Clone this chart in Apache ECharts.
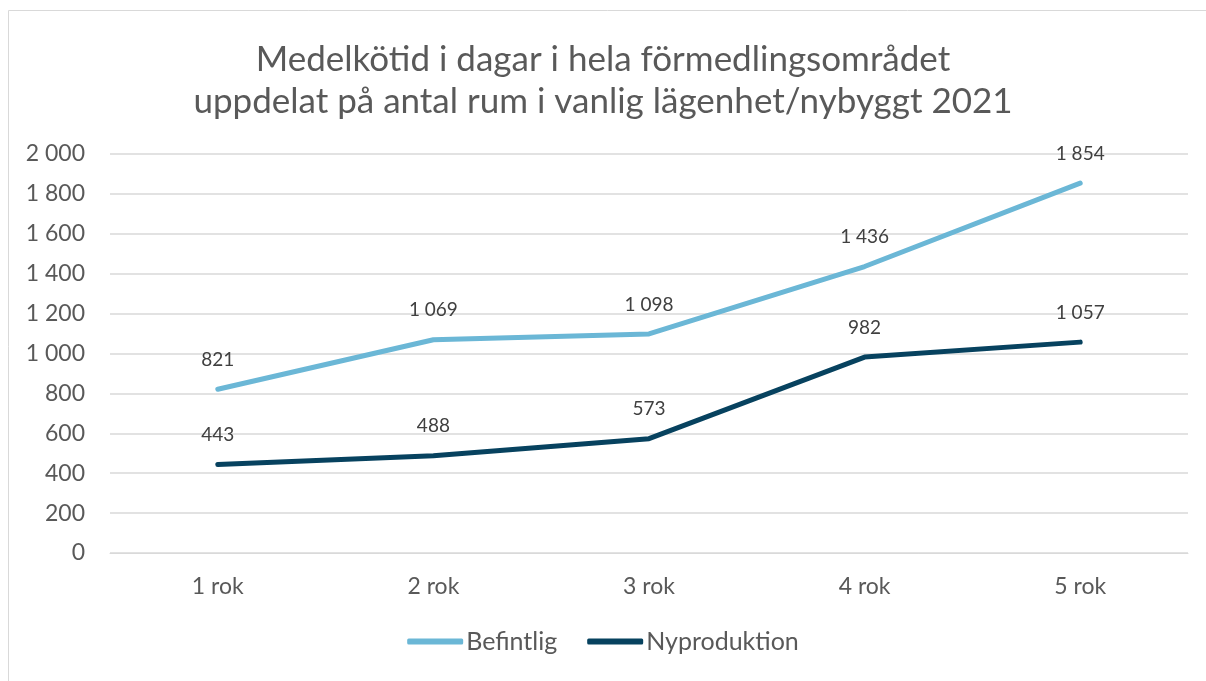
<!DOCTYPE html>
<html>
<head>
<meta charset="utf-8">
<script src="https://cdn.jsdelivr.net/npm/echarts@6/dist/echarts.min.js"></script>
<style>
  html, body { margin: 0; padding: 0; background: #fff; }
  #chart { width: 1206px; height: 681px; }
</style>
</head>
<body>
<div id="chart"></div>
<script>
const categories = ['1 rok', '2 rok', '3 rok', '4 rok', '5 rok']
const befintlig = [821, 1069, 1098, 1436, 1854]
const nyproduktion = [443, 488, 573, 982, 1057]
const seriesNames = ['Befintlig', 'Nyproduktion']
const titleLines = ['Medelkötid i dagar i hela förmedlingsområdet', 'uppdelat på antal rum i vanlig lägenhet/nybyggt 2021']

// Swedish style thousands separator: "1 854"
const fmt = (v) => String(v).replace(/\B(?=(\d{3})+(?!\d))/g, ' ')

const font = 'Lato, "Open Sans", sans-serif'
const chart = echarts.init(document.getElementById('chart'))

const lineSeries = (name, data, color) => ({
  name,
  type: 'line',
  data,
  symbol: 'circle',
  symbolSize: 0.1,
  lineStyle: { width: 5, color, cap: 'round', join: 'round' },
  itemStyle: { color },
  label: {
    show: true,
    position: 'top',
    distance: 20,
    fontFamily: font,
    fontSize: 19,
    color: '#404040',
    formatter: (p) => fmt(p.value)
  },
  emphasis: { disabled: true }
})

chart.setOption({
  animation: false,
  title: {
    text: titleLines.join('\n'),
    left: 'center',
    top: 34,
    textStyle: {
      fontFamily: font,
      fontSize: 35,
      fontWeight: 'normal',
      color: '#595959',
      lineHeight: 42
    }
  },
  graphic: [{
    type: 'rect',
    shape: { x: 8.5, y: 10.5, width: 1210, height: 690 },
    style: { fill: 'none', stroke: '#d9d9d9', lineWidth: 1 },
    silent: true
  }],
  legend: {
    data: seriesNames,
    bottom: 22,
    left: 'center',
    icon: 'roundRect',
    itemWidth: 56,
    itemHeight: 6,
    itemGap: 30,
    textStyle: { fontFamily: font, fontSize: 25, color: '#595959', padding: [0, 0, 0, -2] }
  },
  grid: { left: 110, right: 18, top: 154, bottom: 128 },
  xAxis: {
    type: 'category',
    data: categories,
    axisLine: { lineStyle: { color: '#d9d9d9', width: 1 } },
    axisTick: { show: false },
    axisLabel: { fontFamily: font, fontSize: 23, color: '#595959', margin: 22 }
  },
  yAxis: {
    type: 'value',
    min: 0,
    max: 2000,
    interval: 200,
    axisLine: { show: false },
    axisTick: { show: false },
    splitLine: { lineStyle: { color: '#d9d9d9', width: 1.5 } },
    axisLabel: { fontFamily: font, fontSize: 23, color: '#595959', margin: 25, formatter: fmt }
  },
  series: [
    lineSeries(seriesNames[0], befintlig, '#6bb7d6'),
    lineSeries(seriesNames[1], nyproduktion, '#07425f')
  ]
})
</script>
</body>
</html>
